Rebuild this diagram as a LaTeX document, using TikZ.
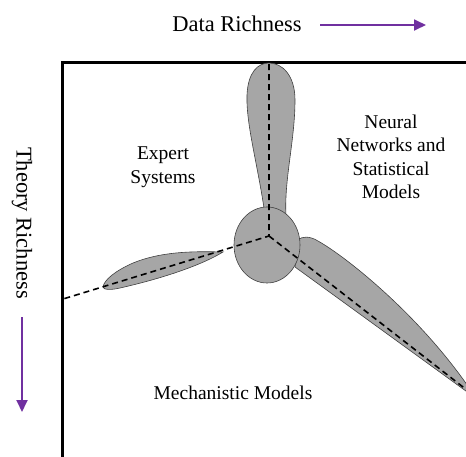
\documentclass[tikz,border=0pt]{standalone}
\usepackage{fontspec}
\setmainfont{Liberation Serif}
\usetikzlibrary{positioning, arrows.meta}
\definecolor{richpurple}{RGB}{112,48,160}
\definecolor{bladegray}{RGB}{166,166,166}
\begin{document}
\begin{tikzpicture}[x=1pt,y=-1pt,
    axis/.style={font=\fontsize{22.5}{26}\selectfont},
    region/.style={align=center,font=\fontsize{19.5}{23.5}\selectfont},
    blade/.style={fill=bladegray,draw=black!75,line width=0.6pt},
    dir/.style={-{Triangle[length=12pt,width=11pt]},richpurple,line width=1.8pt},
    axle/.style={dash pattern=on 6pt off 4pt,line width=1.6pt}]
    \useasboundingbox (0,0) rectangle (466,456);
    % frame
    \draw[line width=3pt] (62,460) -- (62,62) -- (470,62);
    % blades and hub
    \draw[blade] (265,215) .. controls (258,165) and (246,125) .. (247,95)
        .. controls (248,72) and (258,63) .. (269,63)
        .. controls (282,63) and (295,75) .. (295,100)
        .. controls (295,140) and (284,180) .. (286,215) -- cycle;
    \draw[blade] (223,252) .. controls (190,251) and (160,252) .. (133,263)
        .. controls (115,271) and (104,280) .. (103,287)
        .. controls (103,290) and (112,290) .. (120,288)
        .. controls (160,279) and (200,266) .. (223,252) -- cycle;
    \draw[blade] (298,240) .. controls (302,236) and (310,236) .. (318,241)
        .. controls (345,256) and (420,315) .. (472,392)
        -- (470,394) -- (295,267) -- cycle;
    \draw[blade] (267,245) ellipse [x radius=33, y radius=38];
    % axes of the blades
    \coordinate (hub) at (269,236);
    \coordinate (top_end) at (269,64);
    \coordinate (left_end) at (63,299);
    \coordinate (right_end) at (472,394);
    \draw[axle] (top_end) -- (hub) -- (left_end);
    \draw[axle] (hub) -- (right_end);
    % labels
    \node[axis] (data_label) at (237,24) {Data Richness};
    \coordinate (data_tail) at (320,25);
    \coordinate (data_head) at (426,25);
    \draw[dir] (data_tail) -- (data_head);
    \node[axis,rotate=-90] (theory_label) at (22,223) {Theory Richness};
    \coordinate (theory_tail) at (22,317);
    \coordinate (theory_head) at (22,412);
    \draw[dir] (theory_tail) -- (theory_head);
    \node[region] (expert) at (163,167) {Expert\\Systems};
    \node[region] (neural) at (391,157) {Neural\\Networks and\\Statistical\\Models};
    \node[region] (mech) at (233,393) {Mechanistic Models};
\end{tikzpicture}
\end{document}
